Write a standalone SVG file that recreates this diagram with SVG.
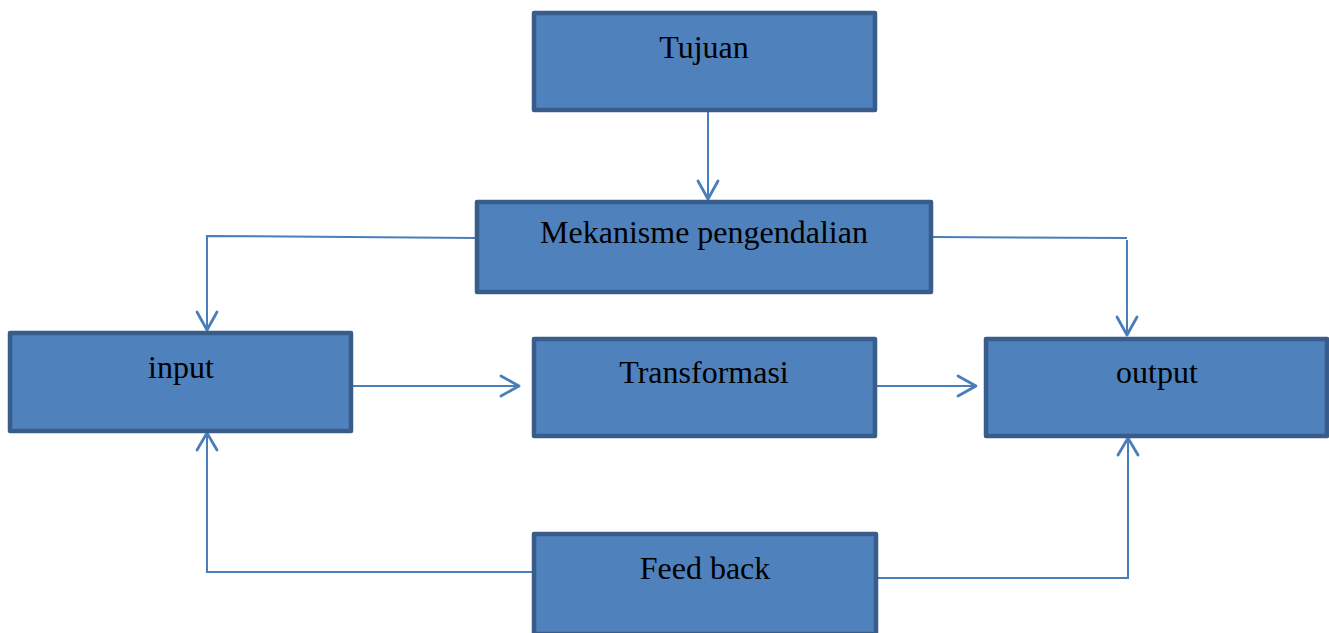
<svg xmlns="http://www.w3.org/2000/svg" width="1329" height="633" viewBox="0 0 1329 633">
<style>
.box{fill:#4F81BD;stroke:#385D8A;stroke-width:4.5;stroke-linejoin:round}
.lbl{font-family:"Liberation Serif","Times New Roman",serif;font-size:32px;fill:#000;text-anchor:middle}
.ln{fill:none;stroke:#4A7EBB;stroke-width:2}
.ah{fill:none;stroke:#4A7EBB;stroke-width:2.8;stroke-linecap:round;stroke-linejoin:round}
</style>
<rect width="1329" height="633" fill="#fff"/>
<g id="connectors">
<path class="ln" d="M708 111 V199"/>
<path class="ah" d="M698 181 L708 199 L718 181"/>
<path class="ln" d="M476 238 L207 236 V330"/>
<path class="ah" d="M197 312 L207 330 L217 312"/>
<path class="ln" d="M932 237 L1127 238 M1127 240 V335"/>
<path class="ah" d="M1117 317 L1127 335 L1137 317"/>
<path class="ln" d="M352 386 H519"/>
<path class="ah" d="M501 376 L519 386 L501 396"/>
<path class="ln" d="M876 386 H976"/>
<path class="ah" d="M958 376 L976 386 L958 396"/>
<path class="ln" d="M533 572 H207 V433"/>
<path class="ah" d="M197 450 L207 433 L217 450"/>
<path class="ln" d="M877 578 H1128 V438"/>
<path class="ah" d="M1118 455 L1128 438 L1138 455"/>
</g>
<g id="tujuan"><rect class="box" x="534" y="13" width="341" height="97"/><text class="lbl" x="704" y="58">Tujuan</text></g>
<g id="mekanisme"><rect class="box" x="477" y="202" width="454" height="90"/><text class="lbl" x="704" y="243">Mekanisme pengendalian</text></g>
<g id="input"><rect class="box" x="10" y="333" width="341" height="98"/><text class="lbl" x="181" y="378">input</text></g>
<g id="transformasi"><rect class="box" x="534" y="339" width="341" height="97"/><text class="lbl" x="704" y="383">Transformasi</text></g>
<g id="output"><rect class="box" x="986" y="339" width="341" height="97"/><text class="lbl" x="1157" y="383">output</text></g>
<g id="feedback"><rect class="box" x="534" y="534" width="342" height="100"/><text class="lbl" x="705" y="579">Feed back</text></g>
</svg>
